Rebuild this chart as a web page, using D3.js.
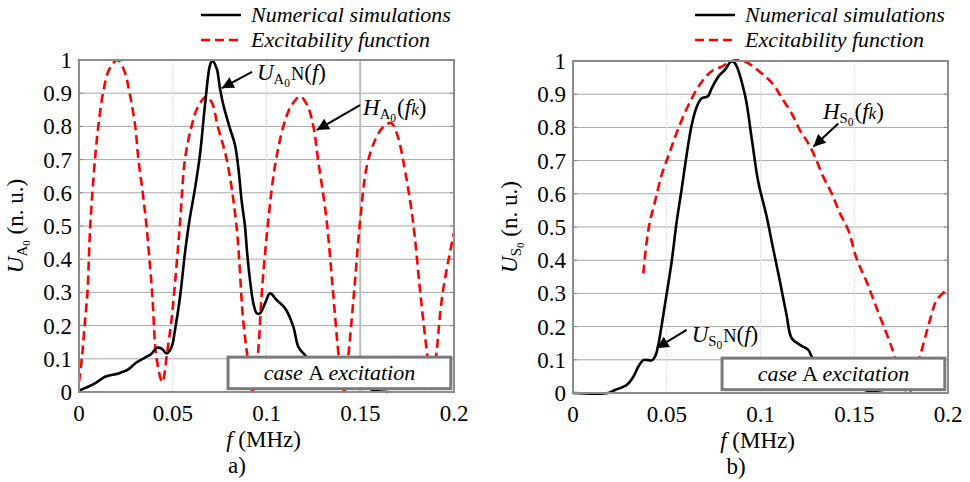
<!DOCTYPE html>
<html>
<head>
<meta charset="utf-8">
<script src="https://cdn.jsdelivr.net/npm/d3@7"></script>
<style>
  body { margin: 0; background: #fff; }
  svg text { font-family: "Liberation Serif", "Times New Roman", "Nimbus Roman", "DejaVu Serif", serif; }
</style>
</head>
<body>
<svg id="chart" width="970" height="482"></svg>
<script>
// ---- data: [f (MHz), amplitude (n. u.)] ----
const numA0 = [
  [0, 0.004], [0.0085, 0.026], [0.0139, 0.046], [0.021, 0.056], [0.0263, 0.068],
  [0.0299, 0.086], [0.035, 0.103], [0.0388, 0.116], [0.0414, 0.133], [0.044, 0.131],
  [0.0467, 0.116], [0.0494, 0.136], [0.0512, 0.187], [0.0539, 0.287], [0.0565, 0.418],
  [0.0588, 0.513], [0.0619, 0.614], [0.0645, 0.714], [0.0672, 0.864], [0.0699, 0.985],
  [0.0711, 0.997], [0.0734, 0.975], [0.0752, 0.914], [0.077, 0.864], [0.0805, 0.794],
  [0.0832, 0.744], [0.085, 0.674], [0.0868, 0.573], [0.0885, 0.5], [0.0897, 0.418],
  [0.0912, 0.337], [0.093, 0.267], [0.0948, 0.237], [0.0965, 0.237], [0.0992, 0.267],
  [0.1019, 0.297], [0.1054, 0.277], [0.1099, 0.252], [0.1143, 0.197], [0.117, 0.136],
  [0.1205, 0.111], [0.125, 0.085], [0.135, 0.05], [0.145, 0.025], [0.155, 0.01],
  [0.158, 0.004], [0.165, 0.0]
];
const excA0 = [
  [0, 0.03], [0.0015, 0.1], [0.003, 0.2], [0.0045, 0.3], [0.006, 0.5], [0.0085, 0.7],
  [0.0103, 0.8], [0.0128, 0.9], [0.016, 0.97], [0.0205, 1.0], [0.024, 0.97],
  [0.027, 0.9], [0.030, 0.8], [0.0317, 0.7], [0.034, 0.6], [0.036, 0.5], [0.039, 0.3],
  [0.0414, 0.1], [0.0445, 0.03], [0.047, 0.12], [0.0494, 0.22], [0.052, 0.38],
  [0.054, 0.52], [0.0565, 0.7], [0.060, 0.8], [0.0635, 0.86], [0.068, 0.89],
  [0.071, 0.87], [0.074, 0.8], [0.0788, 0.7], [0.084, 0.5], [0.0875, 0.22],
  [0.090, 0.1], [0.0925, 0.0], [0.0955, 0.12], [0.0975, 0.3], [0.101, 0.52],
  [0.1045, 0.68], [0.109, 0.8], [0.113, 0.86], [0.118, 0.89], [0.122, 0.86],
  [0.125, 0.8], [0.1275, 0.7], [0.132, 0.52], [0.1355, 0.3], [0.1387, 0.1],
  [0.1415, 0.0], [0.1435, 0.1], [0.1467, 0.3], [0.150, 0.52], [0.1535, 0.68],
  [0.158, 0.76], [0.1625, 0.8], [0.1665, 0.81], [0.170, 0.77], [0.1728, 0.7],
  [0.178, 0.52], [0.182, 0.3], [0.186, 0.1], [0.1885, 0.0], [0.1907, 0.12],
  [0.194, 0.3], [0.2, 0.48]
];
const numS0 = [
  [0, 0], [0.0188, 0], [0.0224, 0.009], [0.0286, 0.024], [0.0322, 0.049],
  [0.0348, 0.079], [0.0375, 0.099], [0.0423, 0.099], [0.0441, 0.114], [0.0455, 0.145],
  [0.049, 0.265], [0.0526, 0.395], [0.0553, 0.516], [0.058, 0.616], [0.0606, 0.717],
  [0.0633, 0.807], [0.066, 0.862], [0.0686, 0.888], [0.0718, 0.893], [0.074, 0.918],
  [0.0775, 0.953], [0.081, 0.973], [0.0843, 0.998], [0.0864, 0.993], [0.0917, 0.898],
  [0.0953, 0.767], [0.0988, 0.636], [0.1031, 0.536], [0.1067, 0.436], [0.1104, 0.335],
  [0.1139, 0.235], [0.1166, 0.165], [0.121, 0.145], [0.1255, 0.13], [0.1273, 0.11],
  [0.135, 0.06], [0.145, 0.03], [0.155, 0.01], [0.16, 0.004], [0.1655, 0]
];
const excS0 = [
  [0.0375, 0.36], [0.0393, 0.456], [0.041, 0.516], [0.0437, 0.576], [0.0473, 0.657],
  [0.0517, 0.727], [0.0562, 0.797], [0.0624, 0.877], [0.0686, 0.937], [0.0748, 0.973],
  [0.0793, 0.983], [0.0846, 1.0], [0.091, 1.0], [0.1006, 0.963], [0.107, 0.928],
  [0.111, 0.892], [0.1166, 0.842], [0.121, 0.792], [0.1255, 0.752], [0.129, 0.712],
  [0.1335, 0.651], [0.138, 0.601], [0.1424, 0.541], [0.1468, 0.491], [0.1512, 0.406],
  [0.1566, 0.335], [0.162, 0.255], [0.1682, 0.165], [0.1708, 0.124], [0.1788, 0.0],
  [0.185, 0.11], [0.1904, 0.22], [0.194, 0.28], [0.2, 0.315]
];

const xTicks = [0, 0.05, 0.1, 0.15, 0.2];
const xTickLabels = ['0', '0.05', '0.1', '0.15', '0.2'];
const yTicks = [0, 0.1, 0.2, 0.3, 0.4, 0.5, 0.6, 0.7, 0.8, 0.9, 1];
const yTickLabels = ['0', '0.1', '0.2', '0.3', '0.4', '0.5', '0.6', '0.7', '0.8', '0.9', '1'];
const legendLabels = ['Numerical simulations', 'Excitability function'];

const FONT = '"Liberation Serif", "Times New Roman", "Nimbus Roman", "DejaVu Serif", serif';
const svg = d3.select('#chart');

// panel layout (pixels) and annotations (in data units)
const panels = [
  {
    left: 79, right: 454, top: 60, bottom: 392, caption: 'a)', captionX: 237,
    sub: 'A', num: numA0, exc: excA0,
    strongGrid: 0.15,
    notes: [
      { kind: 'U', lx: 0.0949, ly: 0.961, tail: [0.0923, 0.964], tip: [0.0761, 0.915] },
      { kind: 'H', lx: 0.1515, ly: 0.855, tail: [0.1499, 0.864], tip: [0.1268, 0.789] }
    ]
  },
  {
    left: 573, right: 948, top: 61, bottom: 393, caption: 'b)', captionX: 736,
    sub: 'S', num: numS0, exc: excS0,
    strongGrid: null,
    notes: [
      { kind: 'H', lx: 0.1333, ly: 0.846, tail: [0.1415, 0.812], tip: [0.1282, 0.742] },
      { kind: 'U', lx: 0.0633, ly: 0.175, tail: [0.0606, 0.19], tip: [0.0446, 0.135] }
    ]
  }
];

const defs = svg.append('defs');
defs.append('marker')
  .attr('id', 'arrowHead')
  .attr('viewBox', '0 0 10 10')
  .attr('refX', 10).attr('refY', 5)
  .attr('markerUnits', 'userSpaceOnUse')
  .attr('markerWidth', 16).attr('markerHeight', 12)
  .attr('orient', 'auto')
  .append('path')
  .attr('d', 'M0,0 L10,5 L0,10 Z')
  .attr('fill', '#000');

// writes e.g. U_{A_0}N(f) or H_{S_0}(f_k) with tspans
function mathLabel(sel, kind, sub, big) {
  const t = sel.append('text').attr('font-family', FONT).style('font-size', big + 'px');
  t.append('tspan').text(kind).style('font-style', 'italic');
  t.append('tspan').text(sub).style('font-size', (big * 0.64) + 'px').attr('dy', 4);
  t.append('tspan').text('0').style('font-size', (big * 0.5) + 'px').attr('dy', 3);
  if (kind === 'U') {
    t.append('tspan').text('N').style('font-size', (big * 0.8) + 'px').attr('dy', -7).attr('dx', 1);
    t.append('tspan').text('(');
    t.append('tspan').text('f').style('font-style', 'italic');
    t.append('tspan').text(')');
  } else {
    t.append('tspan').text('(').attr('dy', -7).attr('dx', 1);
    t.append('tspan').text('f').style('font-style', 'italic');
    t.append('tspan').text('k').style('font-style', 'italic').style('font-size', (big * 0.75) + 'px');
    t.append('tspan').text(')');
  }
  return t;
}

panels.forEach(p => {
  const x = d3.scaleLinear().domain([0, 0.2]).range([p.left, p.right]);
  const y = d3.scaleLinear().domain([0, 1]).range([p.bottom, p.top]);
  const g = svg.append('g').attr('font-family', FONT);

  // grid
  g.selectAll('.hgrid')
    .data(yTicks.slice(1, -1))
    .join('line')
    .attr('x1', p.left).attr('x2', p.right)
    .attr('y1', d => y(d)).attr('y2', d => y(d))
    .attr('stroke', '#a8a8a8').attr('stroke-width', 1);

  g.selectAll('.vgrid')
    .data(xTicks.slice(1, -1))
    .join('line')
    .attr('x1', d => x(d)).attr('x2', d => x(d))
    .attr('y1', p.top).attr('y2', p.bottom)
    .attr('stroke', d => d === p.strongGrid ? '#bdbdbd' : '#dedede')
    .attr('stroke-width', d => d === p.strongGrid ? 2 : 1)
    .attr('stroke-dasharray', d => d === p.strongGrid ? null : '2,1');

  // small inward ticks
  g.selectAll('.ytick')
    .data(yTicks)
    .join('line')
    .attr('x1', p.left).attr('x2', p.left + 4)
    .attr('y1', d => y(d)).attr('y2', d => y(d))
    .attr('stroke', '#888');
  g.selectAll('.ytick2')
    .data(yTicks)
    .join('line')
    .attr('x1', p.right - 4).attr('x2', p.right)
    .attr('y1', d => y(d)).attr('y2', d => y(d))
    .attr('stroke', '#888');

  // curves
  const line = d3.line()
    .x(d => x(d[0])).y(d => y(d[1]))
    .curve(d3.curveCatmullRom.alpha(0.5));

  g.append('path')
    .datum(p.exc)
    .attr('d', line)
    .attr('fill', 'none')
    .attr('stroke', '#ff0000')
    .attr('stroke-width', 2.6)
    .attr('stroke-dasharray', '9,5');

  g.append('path')
    .datum(p.num)
    .attr('d', line)
    .attr('fill', 'none')
    .attr('stroke', '#000')
    .attr('stroke-width', 2.6)
    .attr('stroke-linejoin', 'round');

  // frame
  g.append('rect')
    .attr('x', p.left).attr('y', p.top)
    .attr('width', p.right - p.left).attr('height', p.bottom - p.top)
    .attr('fill', 'none').attr('stroke', '#8c8c8c').attr('stroke-width', 2);

  // "case A excitation" box
  const bx0 = x(0.0795), bx1 = x(0.1983), by0 = y(0.105), by1 = y(0.01);
  g.append('rect')
    .attr('x', bx0).attr('y', by0)
    .attr('width', bx1 - bx0).attr('height', by1 - by0)
    .attr('fill', '#fff').attr('stroke', '#7a7a7a').attr('stroke-width', 3);
  const bt = g.append('text')
    .attr('x', (bx0 + bx1) / 2).attr('y', (by0 + by1) / 2 + 7)
    .attr('text-anchor', 'middle')
    .style('font-size', '22px');
  bt.append('tspan').text('case ').style('font-style', 'italic');
  bt.append('tspan').text('A ');
  bt.append('tspan').text('excitation').style('font-style', 'italic');

  // tick labels
  g.selectAll('.ylab')
    .data(yTicks)
    .join('text')
    .attr('x', p.left - 7)
    .attr('y', d => y(d) + 8)
    .attr('text-anchor', 'end')
    .style('font-size', '23px')
    .text((d, i) => yTickLabels[i]);

  g.selectAll('.xlab')
    .data(xTicks)
    .join('text')
    .attr('x', d => x(d))
    .attr('y', p.bottom + 29)
    .attr('text-anchor', 'middle')
    .style('font-size', '23px')
    .text((d, i) => xTickLabels[i]);

  // axis titles
  const xt = g.append('text')
    .attr('x', (p.left + p.right) / 2 - 3)
    .attr('y', p.bottom + 55)
    .attr('text-anchor', 'middle')
    .style('font-size', '23px');
  xt.append('tspan').text('f ').style('font-style', 'italic');
  xt.append('tspan').text('(MHz)');

  g.append('text')
    .attr('x', p.captionX).attr('y', p.bottom + 81)
    .attr('text-anchor', 'middle')
    .style('font-size', '23px')
    .text(p.caption);

  const yt = g.append('text')
    .attr('transform', `translate(${p.left - 56},${(p.top + p.bottom) / 2}) rotate(-90)`)
    .attr('text-anchor', 'middle')
    .style('font-size', '23px');
  yt.append('tspan').text('U').style('font-style', 'italic');
  yt.append('tspan').text(p.sub).style('font-size', '15px').attr('dy', 4);
  yt.append('tspan').text('0').style('font-size', '11px').attr('dy', 3);
  yt.append('tspan').text(' (n. u.)').attr('dy', -7);

  // legend
  const lx = p.left + 122;
  [0, 1].forEach(i => {
    const ly = 15 + i * 25;
    g.append('line')
      .attr('x1', lx).attr('x2', lx + 40)
      .attr('y1', ly).attr('y2', ly)
      .attr('stroke', i === 0 ? '#000' : '#ff0000')
      .attr('stroke-width', 2.6)
      .attr('stroke-dasharray', i === 0 ? null : '9,5');
    g.append('text')
      .attr('x', lx + 50).attr('y', ly + 7)
      .style('font-size', '22px')
      .style('font-style', 'italic')
      .text(legendLabels[i]);
  });

  // annotations
  p.notes.forEach(n => {
    mathLabel(g, n.kind, p.sub, 23)
      .attr('x', x(n.lx)).attr('y', y(n.ly) + 7);
    g.append('line')
      .attr('x1', x(n.tail[0])).attr('y1', y(n.tail[1]))
      .attr('x2', x(n.tip[0])).attr('y2', y(n.tip[1]))
      .attr('stroke', '#000').attr('stroke-width', 2)
      .attr('marker-end', 'url(#arrowHead)');
  });
});
</script>
</body>
</html>
